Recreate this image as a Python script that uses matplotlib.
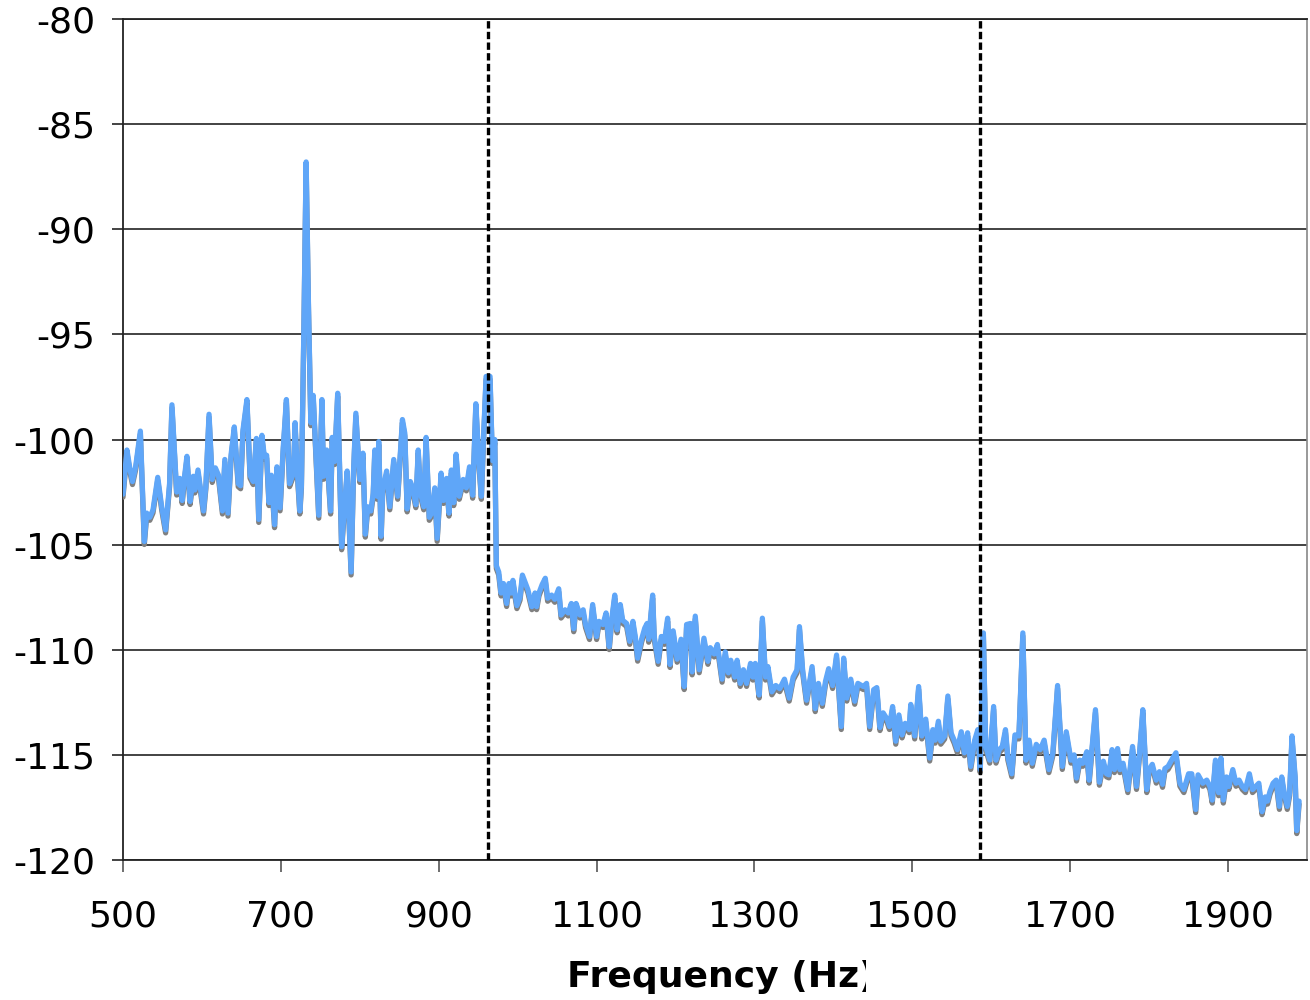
import matplotlib
matplotlib.use("Agg")
import matplotlib.pyplot as plt
from matplotlib.transforms import offset_copy, Bbox

plt.rcParams["axes.unicode_minus"] = False

# spectrum (Hz, dB)
freqs = [
    500, 505, 509, 512, 516, 522, 527, 530, 534, 538, 544, 549, 554, 559, 562,
    568, 572, 575, 578, 581, 585, 589, 591, 595, 602, 605, 609, 613, 617, 621,
    626, 629, 633, 637, 641, 646, 649, 652, 657, 661, 665, 669, 672, 676, 679,
    682, 685, 688, 692, 695, 699, 703, 707, 711, 716, 718, 721, 724, 726, 729,
    732, 735, 738, 741, 745, 748, 752, 754, 758, 763, 765, 768, 772, 777, 780,
    784, 789, 792, 795, 800, 804, 807, 810, 814, 817, 819, 822, 824, 827, 829,
    834, 838, 843, 848, 854, 857, 860, 864, 867, 871, 874, 877, 881, 884, 888,
    891, 895, 898, 903, 906, 910, 913, 916, 919, 922, 926, 931, 935, 939, 943,
    947, 951, 954, 957, 960, 965, 968, 971, 973, 976, 979, 982, 986, 989, 992,
    994, 999, 1003, 1006, 1010, 1013, 1018, 1022, 1024, 1027, 1031, 1035, 1038, 1043, 1047,
    1052, 1055, 1060, 1064, 1068, 1071, 1074, 1079, 1083, 1086, 1091, 1095, 1100, 1103, 1108,
    1112, 1116, 1119, 1123, 1126, 1130, 1133, 1138, 1142, 1146, 1149, 1152, 1157, 1161, 1164,
    1166, 1171, 1173, 1178, 1182, 1186, 1190, 1193, 1197, 1202, 1207, 1211, 1214, 1219, 1221,
    1225, 1230, 1236, 1241, 1244, 1249, 1253, 1259, 1263, 1267, 1270, 1275, 1278, 1282, 1286,
    1290, 1295, 1298, 1301, 1306, 1310, 1314, 1317, 1322, 1327, 1332, 1338, 1344, 1349, 1354,
    1357, 1361, 1366, 1373, 1377, 1381, 1386, 1390, 1394, 1399, 1404, 1410, 1413, 1417, 1422,
    1427, 1431, 1438, 1442, 1446, 1451, 1455, 1459, 1463, 1468, 1471, 1475, 1479, 1483, 1487,
    1491, 1496, 1498, 1503, 1508, 1512, 1517, 1522, 1526, 1529, 1533, 1536, 1541, 1545, 1549,
    1553, 1557, 1562, 1566, 1570, 1574, 1579, 1583, 1586, 1590, 1593, 1598, 1603, 1606, 1610,
    1614, 1618, 1621, 1626, 1630, 1635, 1640, 1644, 1648, 1652, 1657, 1662, 1667, 1673, 1678,
    1684, 1690, 1695, 1701, 1705, 1708, 1712, 1716, 1721, 1724, 1732, 1737, 1742, 1746, 1749,
    1753, 1756, 1760, 1763, 1767, 1773, 1779, 1784, 1788, 1792, 1797, 1800, 1804, 1809, 1813,
    1817, 1820, 1824, 1830, 1834, 1839, 1844, 1850, 1854, 1859, 1862, 1868, 1873, 1877, 1880,
    1884, 1888, 1891, 1894, 1898, 1901, 1906, 1910, 1914, 1918, 1922, 1927, 1931, 1935, 1939,
    1943, 1947, 1950, 1953, 1957, 1961, 1965, 1968, 1971, 1975, 1978, 1981, 1985, 1987, 1990,
]
levels = [
    -102.6, -100.5, -101.45, -102.0, -101.3, -99.6, -104.85, -103.5, -103.7, -103.35, -101.8, -103.2, -104.3, -102.1, -98.35,
    -102.5, -101.85, -102.9, -101.75, -100.8, -102.95, -101.75, -102.4, -101.45, -103.4, -102.2, -98.8, -101.9, -101.35, -101.7,
    -103.4, -100.95, -103.5, -100.7, -99.4, -102.1, -102.2, -99.55, -98.1, -101.7, -102.0, -99.95, -103.8, -99.8, -100.8,
    -100.75, -103.0, -101.7, -104.05, -101.3, -103.25, -100.4, -98.1, -102.1, -101.6, -99.2, -101.6, -103.4, -102.2, -95.1,
    -86.8, -93.7, -99.2, -97.9, -101.1, -103.6, -98.1, -101.75, -100.5, -103.4, -99.9, -101.05, -97.8, -105.1, -103.5,
    -101.5, -106.3, -101.6, -98.75, -101.9, -100.65, -104.5, -103.2, -103.4, -102.55, -100.5, -102.7, -100.1, -104.6, -102.4,
    -101.5, -103.2, -100.95, -102.7, -99.05, -99.7, -103.3, -102.0, -102.3, -103.1, -100.5, -102.55, -103.2, -99.9, -103.7,
    -103.5, -102.3, -104.7, -101.6, -102.9, -101.85, -103.5, -101.45, -103.0, -100.7, -102.7, -101.9, -102.3, -101.3, -102.65,
    -98.3, -101.1, -102.7, -99.7, -97.0, -97.0, -101.0, -100.0, -106.0, -106.3, -107.3, -106.85, -107.8, -106.85, -107.3,
    -106.7, -107.9, -107.5, -106.45, -106.85, -107.15, -107.95, -107.3, -107.95, -107.3, -106.9, -106.6, -107.55, -107.4, -107.6,
    -107.1, -108.35, -108.1, -108.25, -107.8, -109.0, -107.8, -108.35, -108.1, -108.8, -109.37, -107.85, -109.37, -108.65, -108.8,
    -108.25, -109.85, -108.6, -107.4, -109.05, -107.85, -108.6, -108.75, -109.6, -108.65, -109.37, -110.4, -109.5, -108.97, -108.75,
    -109.5, -107.4, -109.37, -110.55, -109.37, -109.6, -108.5, -110.7, -109.1, -110.45, -109.5, -111.75, -108.8, -108.75, -111.05,
    -108.4, -110.95, -109.45, -110.55, -109.9, -110.2, -109.75, -111.4, -110.1, -111.1, -110.5, -111.3, -110.5, -111.6, -110.95,
    -111.6, -110.65, -111.3, -110.65, -112.15, -108.5, -111.3, -110.8, -112.0, -111.7, -111.85, -111.4, -112.3, -111.3, -110.95,
    -108.9, -110.95, -112.4, -110.8, -112.8, -111.6, -112.55, -111.5, -110.9, -111.7, -110.25, -113.65, -110.4, -112.3, -111.4,
    -112.45, -111.6, -111.75, -111.6, -113.65, -111.9, -111.8, -113.7, -113.0, -113.3, -113.65, -112.7, -114.35, -113.1, -114.05,
    -113.5, -113.8, -112.6, -114.1, -111.75, -114.1, -113.3, -115.15, -113.8, -114.3, -113.4, -114.35, -114.1, -112.2, -113.95,
    -114.3, -114.75, -113.9, -114.9, -113.95, -115.55, -114.3, -113.8, -115.7, -109.2, -114.6, -115.25, -112.7, -115.25, -114.75,
    -114.6, -113.8, -115.1, -115.9, -114.05, -114.1, -109.2, -115.25, -114.3, -115.4, -114.5, -114.75, -114.3, -115.7, -114.9,
    -111.7, -115.55, -113.9, -115.25, -115.0, -116.1, -115.25, -115.4, -114.85, -116.2, -112.85, -116.3, -115.3, -115.9, -115.95,
    -114.75, -115.7, -114.7, -115.7, -115.4, -116.65, -114.6, -116.5, -114.85, -112.85, -116.65, -115.7, -115.45, -116.2, -115.8,
    -116.4, -115.65, -115.55, -115.15, -114.9, -116.35, -116.65, -115.9, -115.9, -117.6, -115.95, -116.35, -116.2, -116.5, -117.15,
    -115.25, -116.8, -115.15, -117.15, -116.05, -116.5, -115.7, -116.35, -116.2, -116.5, -116.65, -115.9, -116.65, -116.5, -116.35,
    -117.7, -117.0, -117.2, -116.75, -116.35, -116.2, -117.45, -116.05, -116.75, -117.45, -116.8, -114.1, -116.05, -118.6, -117.2,
]

band_edges = [963, 1586]
x_ticks = [500, 700, 900, 1100, 1300, 1500, 1700, 1900]
y_ticks = [-120, -115, -110, -105, -100, -95, -90, -85, -80]

fig = plt.figure(figsize=(13.1, 10), dpi=100)
ax = fig.add_axes([123 / 1310, 140 / 1000, 1184 / 1310, 841 / 1000])

# grey trace sits just under the blue one
shadow = offset_copy(ax.transData, fig=fig, x=0, y=-3, units="dots")
ax.plot(freqs, levels, color="#808080", lw=3.8, transform=shadow, zorder=3,
        solid_joinstyle="round", solid_capstyle="round")
ax.plot(freqs, levels, color="#5fa6f8", lw=3.8, zorder=4,
        solid_joinstyle="round", solid_capstyle="round")

for f in band_edges:
    ax.axvline(f, color="black", lw=2.4, ls=(0, (2.2, 1.0)), zorder=5)

ax.set_xlim(500, 2000)
ax.set_ylim(-120, -80)
ax.set_xticks(x_ticks)
ax.set_yticks(y_ticks)
ax.yaxis.grid(True, color="#222222", lw=1.2)
ax.set_axisbelow(True)

ax.tick_params(axis="x", direction="out", length=8.5, width=1.2, color="#555555",
               pad=20, labelsize=26)
ax.tick_params(axis="y", direction="out", length=8, width=1.2, color="#222222",
               pad=12, labelsize=26)

for side in ["left", "bottom", "top"]:
    ax.spines[side].set_color("#222222")
    ax.spines[side].set_linewidth(1.3)
ax.spines["right"].set_color("#888888")
ax.spines["right"].set_linewidth(1.2)

# label is cut off on the right in the original
lbl = fig.text(567 / 1310, 1 - 977 / 1000, "Frequency (Hz)", ha="left", va="center",
               fontsize=26, fontweight="bold")
lbl.set_clip_box(Bbox([[0, 0], [866, 1000]]))
lbl.set_clip_on(True)

fig.savefig("out.png", dpi=100)
